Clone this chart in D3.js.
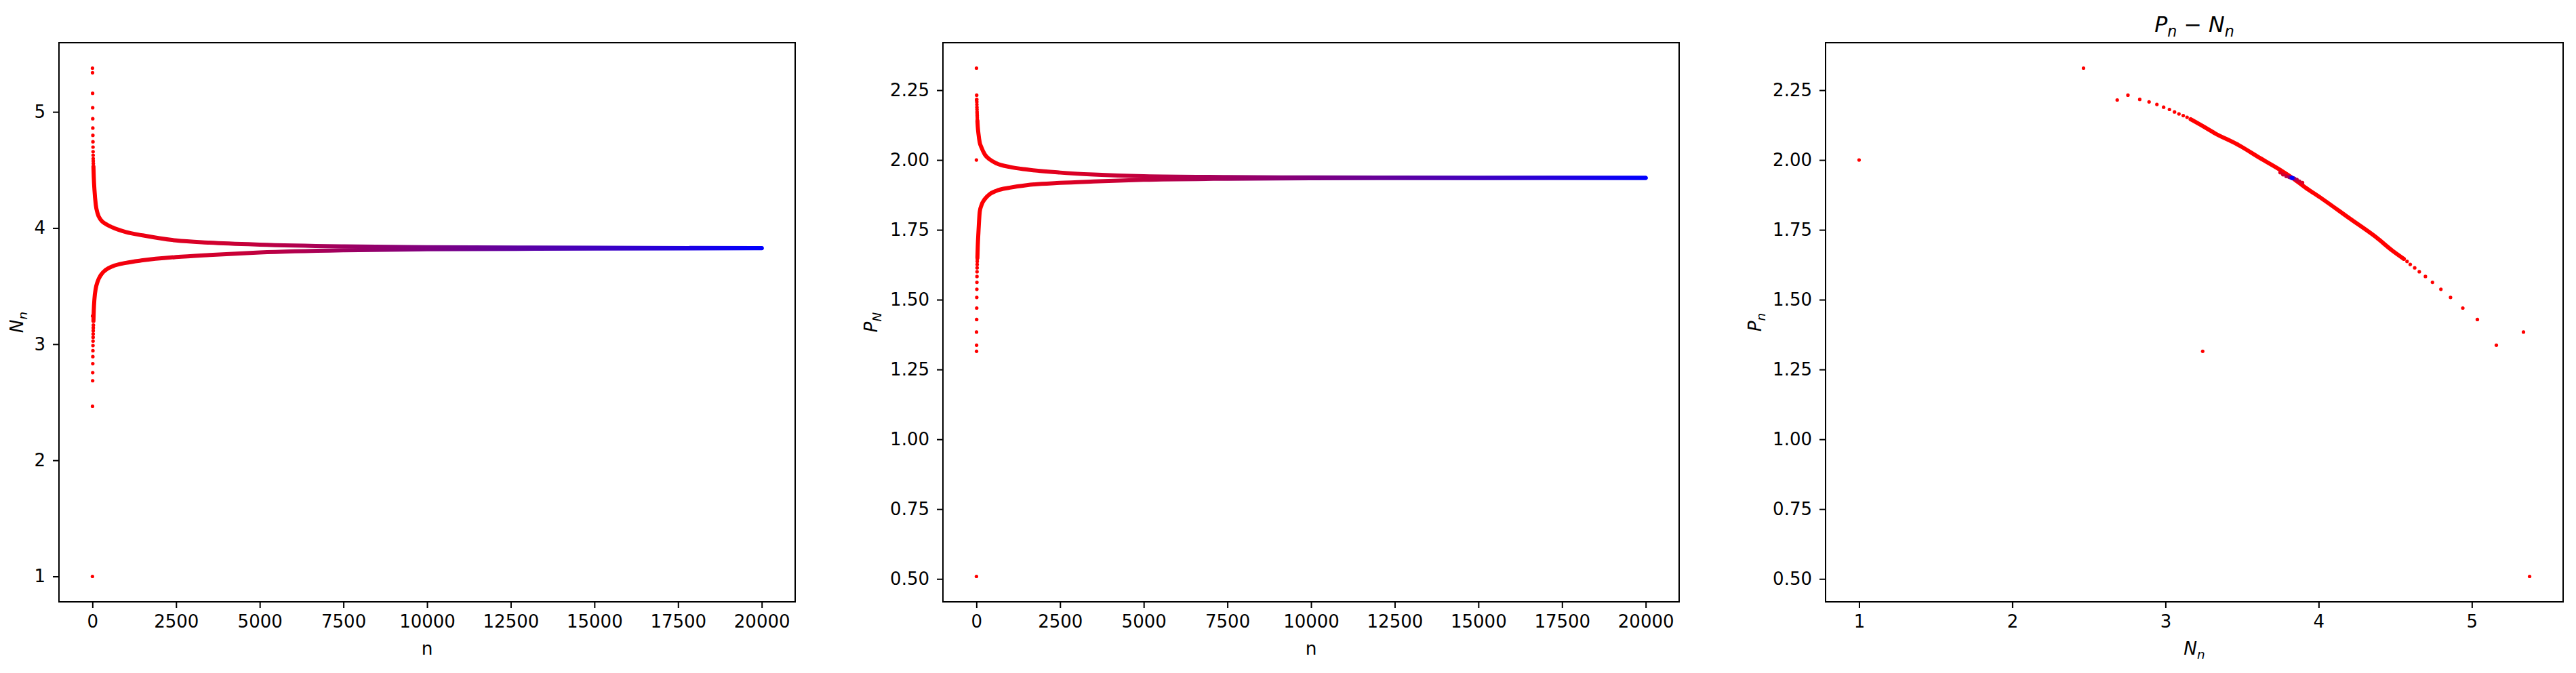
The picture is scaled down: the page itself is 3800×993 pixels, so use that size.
<!DOCTYPE html>
<html><head><meta charset="utf-8">
<script src="https://cdn.jsdelivr.net/npm/d3@7"></script>
<style>
html,body{margin:0;padding:0;background:#fff;}
svg{display:block;font-family:"DejaVu Sans",sans-serif;}
</style></head><body>
<svg id="chart" width="3800" height="993"></svg>
<script>
// ---------------- data ----------------
// first iterates, n = 0..28 (isolated dots near n = 0)
const earlyIdx = [0,1,2,3,4,5,6,7,8,9,10,11,12,13,14,15,16,17,18,19,20,21,22,23,24,25,26,27,28];
const earlyN = [1.000,5.377,2.465,5.337,3.243,5.160,2.685,5.036,2.755,4.941,2.832,4.861,2.893,4.798,2.944,4.743,2.988,4.697,3.026,4.657,3.059,4.627,3.088,4.598,3.116,4.577,3.141,4.556,3.164];
const earlyP = [2.000,0.509,2.329,1.384,1.315,1.337,2.215,1.429,2.232,1.470,2.217,1.508,2.208,1.537,2.199,1.562,2.189,1.583,2.181,1.600,2.172,1.614,2.165,1.626,2.159,1.637,2.153,1.646,2.146];
// dense part: two interleaved branches
const denseIdx = [30,40,60,100,150,250,400,600,1000,1500,2500,3500,5000,7500,10000,15000,19999];
const upperN = [4.53,4.44,4.33,4.20,4.13,4.07,4.035,4.005,3.965,3.937,3.893,3.874,3.857,3.842,3.835,3.830,3.827];
const lowerN = [3.20,3.29,3.39,3.48,3.535,3.595,3.64,3.67,3.70,3.722,3.75,3.768,3.789,3.808,3.817,3.823,3.826];
const upperP = [2.14,2.12,2.095,2.062,2.045,2.020,2.002,1.988,1.975,1.966,1.955,1.948,1.942,1.939,1.9375,1.9365,1.936];
const lowerP = [1.65,1.69,1.74,1.815,1.838,1.860,1.878,1.890,1.901,1.910,1.918,1.923,1.929,1.933,1.9345,1.9355,1.936];
// phase-plane curve P(N) of the dense part
const phaseN = [3.164,3.248,3.322,3.469,3.617,3.765,3.828,3.912,4.023,4.199,4.376,4.480,4.556];
const phaseP = [2.146,2.120,2.096,2.056,2.007,1.959,1.936,1.902,1.861,1.792,1.723,1.676,1.646];
// ticks
const nTicks = [0,2500,5000,7500,10000,12500,15000,17500,20000];
const nValTicks = [1,2,3,4,5];
const pValTicks = [0.50,0.75,1.00,1.25,1.50,1.75,2.00,2.25];
const nMax = 19999;

// ---------------- layout ----------------
const svg = d3.select("#chart");
const plotTop = 63, plotBottom = 888;
const panelLeft = [87, 1391, 2693], panelRight = [1173, 2477, 3781];
const tickFont = 26, labelFont = 26.4, titleFont = 31.7;
const color = d3.scaleLinear().domain([0, nMax]).range(["#ff0000", "#0000ff"]).interpolate(d3.interpolateRgb);
const defs = svg.append("defs");

function padded(vals) {
  const [a, b] = d3.extent(vals);
  const m = (b - a) * 0.05;
  return [a - m, b + m];
}
const allN = earlyN.concat(upperN, lowerN);
const allP = earlyP.concat(upperP, lowerP);
const nDomain = padded(allN), pDomain = padded(allP);
const idxDomain = padded([0, nMax]);

const early = earlyIdx.map((n, i) => ({n, N: earlyN[i], P: earlyP[i]}));
const branchA = denseIdx.map((n, i) => ({n, N: lowerN[i], P: upperP[i]}));
const branchB = denseIdx.map((n, i) => ({n, N: upperN[i], P: lowerP[i]}));

function mathText(sel, parts, fs) {
  // parts: [{t, sub?, italic?}]
  let shifted = false;
  parts.forEach(p => {
    const ts = sel.append("tspan").text(p.t);
    if (p.italic) ts.attr("font-style", "italic");
    if (p.sub) {
      ts.attr("font-size", fs * 0.7).attr("dy", shifted ? 0 : fs * 0.22);
      shifted = true;
    } else {
      ts.attr("font-size", fs).attr("dy", shifted ? -fs * 0.22 : 0);
      shifted = false;
    }
  });
}

function axes(g, x, y, xTicks, xFmt, yTicks, yFmt) {
  const xa = g.append("g").attr("transform", `translate(0,${plotBottom})`)
    .call(d3.axisBottom(x).tickValues(xTicks).tickFormat(xFmt).tickSize(9).tickPadding(11).tickSizeOuter(0));
  const ya = g.append("g").attr("transform", `translate(${x.range()[0]},0)`)
    .call(d3.axisLeft(y).tickValues(yTicks).tickFormat(yFmt).tickSize(9).tickPadding(11).tickSizeOuter(0));
  [xa, ya].forEach(a => {
    a.select(".domain").remove();
    a.selectAll(".tick line").attr("stroke", "#000").attr("stroke-width", 2);
    a.selectAll(".tick text").attr("fill", "#000").attr("font-size", tickFont)
      .attr("font-family", "DejaVu Sans");
  });
  g.append("rect").attr("x", x.range()[0]).attr("y", plotTop)
    .attr("width", x.range()[1] - x.range()[0]).attr("height", plotBottom - plotTop)
    .attr("fill", "none").attr("stroke", "#000").attr("stroke-width", 2);
}

function yLabel(g, bx, parts) {
  const t = g.append("text").attr("transform", `translate(${bx},${(plotTop + plotBottom) / 2}) rotate(-90)`)
    .attr("text-anchor", "middle").attr("fill", "#000").attr("font-size", labelFont);
  mathText(t, parts, labelFont);
}
function xLabel(g, cx, parts) {
  const t = g.append("text").attr("x", cx).attr("y", 966)
    .attr("text-anchor", "middle").attr("fill", "#000").attr("font-size", labelFont);
  mathText(t, parts, labelFont);
}

// ---------------- panels 1 & 2: series vs n ----------------
function seriesPanel(i, key, dom, yTicks, yFmt, labelParts, labelX) {
  const x = d3.scaleLinear().domain(idxDomain).range([panelLeft[i], panelRight[i]]);
  const y = d3.scaleLinear().domain(dom).range([plotBottom, plotTop]);
  const g = svg.append("g");
  const gid = "grad" + i;
  const lg = defs.append("linearGradient").attr("id", gid).attr("gradientUnits", "userSpaceOnUse")
    .attr("x1", x(0)).attr("x2", x(nMax)).attr("y1", 0).attr("y2", 0);
  lg.append("stop").attr("offset", 0).attr("stop-color", color(0));
  lg.append("stop").attr("offset", 1).attr("stop-color", color(nMax));
  const line = d3.line().x(d => x(d.n)).y(d => y(d[key])).curve(d3.curveMonotoneX);
  [branchA, branchB].forEach(b => {
    g.append("path").attr("d", line(b)).attr("fill", "none")
      .attr("stroke", `url(#${gid})`).attr("stroke-width", 6)
      .attr("stroke-linecap", "round").attr("stroke-linejoin", "round");
  });
  g.selectAll("circle.e").data(early).join("circle")
    .attr("cx", d => x(d.n)).attr("cy", d => y(d[key])).attr("r", 2.6)
    .attr("fill", d => color(d.n));
  axes(g, x, y, nTicks, d3.format("d"), yTicks, yFmt);
  xLabel(g, (panelLeft[i] + panelRight[i]) / 2, [{t: "n"}]);
  yLabel(g, labelX, labelParts);
}
seriesPanel(0, "N", nDomain, nValTicks, d3.format("d"), [{t: "N", italic: true}, {t: "n", italic: true, sub: true}], 34);
seriesPanel(1, "P", pDomain, pValTicks, d3.format(".2f"), [{t: "P", italic: true}, {t: "N", italic: true, sub: true}], 1294);

// ---------------- panel 3: P vs N ----------------
(function () {
  const i = 2;
  const x = d3.scaleLinear().domain(nDomain).range([panelLeft[i], panelRight[i]]);
  const y = d3.scaleLinear().domain(pDomain).range([plotBottom, plotTop]);
  const g = svg.append("g");
  const phase = phaseN.map((v, k) => ({N: v, P: phaseP[k]}));
  g.append("path").attr("d", d3.line().x(d => x(d.N)).y(d => y(d.P)).curve(d3.curveMonotoneX)(phase))
    .attr("fill", "none").attr("stroke", color(0)).attr("stroke-width", 6)
    .attr("stroke-linecap", "round").attr("stroke-linejoin", "round");
  g.selectAll("circle.e").data(early).join("circle")
    .attr("cx", d => x(d.N)).attr("cy", d => y(d.P)).attr("r", 2.6).attr("fill", d => color(d.n));
  const late = branchA.concat(branchB).filter(d => d.n >= 2500).sort((a, b) => a.n - b.n);
  g.selectAll("circle.l").data(late).join("circle")
    .attr("cx", d => x(d.N)).attr("cy", d => y(d.P)).attr("r", 3).attr("fill", d => color(d.n));
  axes(g, x, y, nValTicks, d3.format("d"), pValTicks, d3.format(".2f"));
  xLabel(g, (panelLeft[i] + panelRight[i]) / 2, [{t: "N", italic: true}, {t: "n", italic: true, sub: true}]);
  yLabel(g, 2598, [{t: "P", italic: true}, {t: "n", italic: true, sub: true}]);
  const tt = g.append("text").attr("x", (panelLeft[i] + panelRight[i]) / 2).attr("y", 47)
    .attr("text-anchor", "middle").attr("fill", "#000").attr("font-size", titleFont);
  mathText(tt, [{t: "P", italic: true}, {t: "n", italic: true, sub: true}, {t: " \u2212 "}, {t: "N", italic: true}, {t: "n", italic: true, sub: true}], titleFont);
})();
</script>
</body></html>
